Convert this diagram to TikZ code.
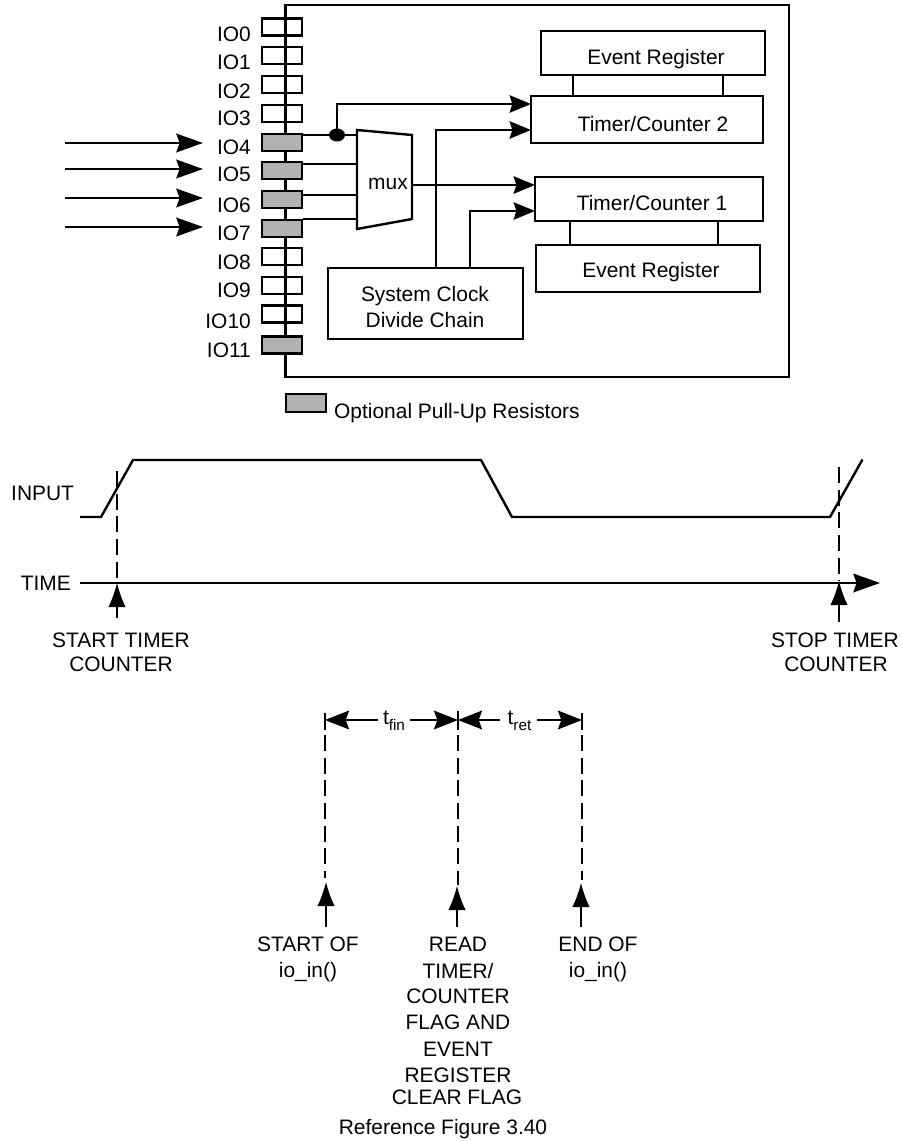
\documentclass[tikz,border=0pt]{standalone}
\usepackage{fontspec}
\setmainfont{Liberation Sans}
\usetikzlibrary{arrows.meta}
\tikzset{every picture/.style={line width=1.8pt}}
\tikzset{
  lbl/.style={anchor=base,inner sep=0pt,font=\fontsize{15.7}{18}\selectfont},
  lblr/.style={lbl,anchor=base east},
  lbll/.style={lbl,anchor=base west},
  pad/.style={draw,minimum width=30pt,minimum height=13pt,inner sep=0pt},
  padon/.style={pad,fill=black!30},
  blockbox/.style={draw,inner sep=0pt},
  bighead/.style={-{Stealth[length=20pt,width=14pt,inset=2.5pt]}},
  midhead/.style={-{Stealth[length=16pt,width=13pt,inset=2pt]}},
  dimhead/.style={-{Stealth[length=18pt,width=14pt,inset=2.5pt]}},
  uphead/.style={line width=0.9pt,-{Latex[length=18pt,width=13pt]}},
  dashline/.style={dash pattern={on 12pt off 5pt}},
}
\newcommand{\tsub}[1]{t\raisebox{-4.5pt}{\fontsize{11.5}{12}\selectfont #1}}

\begin{document}
\begin{tikzpicture}[x=0.75pt,y=0.75pt,yscale=-1,xscale=1]

\useasboundingbox (0,0) rectangle (901,1141);

\draw (285.5,5) rectangle (789,377);

\node [pad] (io0) at (282,27) {};
\node [pad] (io1) at (282,55.5) {};
\node [pad] (io2) at (282,84.5) {};
\node [pad] (io3) at (282,113.5) {};
\node [padon] (io4) at (282,142.5) {};
\node [padon] (io5) at (282,170.5) {};
\node [padon] (io6) at (282,199.5) {};
\node [padon] (io7) at (282,228.5) {};
\node [pad] (io8) at (282,256.5) {};
\node [pad] (io9) at (282,285.5) {};
\node [pad] (io10) at (282,314) {};
\node [padon] (io11) at (282,345) {};

\node [lblr] (lio0) at (252,41.5) {IO0};
\node [lblr] (lio1) at (252,70) {IO1};
\node [lblr] (lio2) at (252,99) {IO2};
\node [lblr] (lio3) at (252,125.5) {IO3};
\node [lblr] (lio4) at (252,154.5) {IO4};
\node [lblr] (lio5) at (252,182) {IO5};
\node [lblr] (lio6) at (252,212.5) {IO6};
\node [lblr] (lio7) at (252,240) {IO7};
\node [lblr] (lio8) at (252,269) {IO8};
\node [lblr] (lio9) at (252,297) {IO9};
\node [lblr] (lio10) at (252,328.5) {IO10};
\node [lblr] (lio11) at (252,357.5) {IO11};

\coordinate (in4) at (65,143);
\coordinate (in5) at (65,169);
\coordinate (in6) at (65,198);
\coordinate (in7) at (65,227);
\draw [bighead] (in4) -- (203,143);
\draw [bighead] (in5) -- (203,169);
\draw [bighead] (in6) -- (203,198);
\draw [bighead] (in7) -- (203,227);

\coordinate (muxa) at (357,135);
\coordinate (muxb) at (357,164);
\coordinate (muxc) at (357,195);
\coordinate (muxd) at (357,219);
\coordinate (muxout) at (412,185);
\draw (357,130) -- (412,135) -- (412,219) -- (357,229) -- cycle;
\node [lbl] (mux) at (388,190) {mux};

\node [blockbox,minimum width=146.25pt,minimum height=53.25pt] (clock) at (425.5,303.5) {};
\node [lbl] (clocktxt) at (425,301) {System Clock};
\node [lbl] (divtxt) at (425,327) {Divide Chain};

\node [blockbox,minimum width=168pt,minimum height=33pt] (event2) at (653,53) {};
\node [lbl] (event2txt) at (656,65) {Event Register};
\node [blockbox,minimum width=174pt,minimum height=35.25pt] (timer2) at (647,119.5) {};
\node [lbl] (timer2txt) at (653,132) {Timer/Counter 2};
\node [blockbox,minimum width=171pt,minimum height=33pt] (timer1) at (649,199) {};
\node [lbl] (timer1txt) at (652,210.5) {Timer/Counter 1};
\node [blockbox,minimum width=168pt,minimum height=35.25pt] (event1) at (648,268.5) {};
\node [lbl] (event1txt) at (651,277.5) {Event Register};

\coordinate (dot) at (337,135);
\coordinate (t2a) at (531,104);
\coordinate (t2b) at (531,130);
\coordinate (t1a) at (535,185);
\coordinate (t1b) at (535,211);

\draw (io4.east |- muxa) -- (muxa);
\draw (io5.east |- muxb) -- (muxb);
\draw (io6.east |- muxc) -- (muxc);
\draw (io7.east |- muxd) -- (muxd);
\fill (dot) ellipse [x radius=8,y radius=6.5];
\draw [midhead] (dot) |- (t2a);
\draw [midhead] (436,268) |- (t2b);
\draw [midhead] (muxout) -- (t1a);
\draw [midhead] (470,268) |- (t1b);
\draw (573,75) -- (573,96);
\draw (723,75) -- (723,96);
\draw (570,221) -- (570,245);
\draw (718,221) -- (718,245);

\node [padon,minimum height=13.5pt] (legend) at (306,403) {};
\node [lbll] (legendtxt) at (333,418) {Optional Pull-Up Resistors};

\node [lbll] (input) at (10,500) {INPUT};
\node [lblr] (time) at (72,590.5) {TIME};
\coordinate (inputa) at (80,517);
\coordinate (inputb) at (862.5,459.5);
\draw (inputa) -- (101,517) -- (133,460) -- (481,460) -- (512,517) -- (830,517) -- (inputb);
\coordinate (timea) at (80,583);
\coordinate (timeb) at (880,583);
\draw [bighead] (timea) -- (timeb);

\coordinate (starta) at (117,471);
\coordinate (startb) at (117,583);
\coordinate (stopa) at (839,467);
\coordinate (stopb) at (839,581);
\draw [dashline] (starta) -- (startb);
\draw [dashline] (stopa) -- (stopb);
\draw [uphead] (117,618) -- (startb);
\draw [uphead] (839,622) -- (stopb);

\node [lbl] (start) at (121,647.5) {START TIMER};
\node [lbl] (startc) at (121,671.5) {COUNTER};
\node [lbl] (stop) at (835,647.5) {STOP TIMER};
\node [lbl] (stopc) at (836,671.5) {COUNTER};

\coordinate (fina) at (325,720);
\coordinate (finb) at (458,720);
\coordinate (retb) at (582,720);
\node [lbl] (tfin) at (394,724) {\tsub{fin}};
\node [lbl] (tret) at (519.5,724) {\tsub{ret}};
\draw [dimhead] (378,720) -- (fina);
\draw [dimhead] (410,720) -- (finb);
\draw [dimhead] (500,720) -- (finb);
\draw [dimhead] (537,720) -- (retb);
\draw (325,713) -- (325,730);
\draw (458,711) -- (458,730);
\draw (582,713) -- (582,730);

\draw [dashline] (325,735) -- (325,878);
\draw [dashline] (458,735) -- (458,885);
\draw [dashline] (582,735) -- (582,880);
\draw [uphead] (326,927) -- (326,882);
\draw [uphead] (457,927) -- (457,886);
\draw [uphead] (581,927) -- (581,883);

\node [lbl] (starto) at (308,951.5) {START OF};
\node [lbl] (startio) at (308,977) {io\_in()};
\node [lbl] (read) at (458,951.5) {READ};
\node [lbl] (readb) at (458,978.5) {TIMER/};
\node [lbl] (readc) at (458,1003.5) {COUNTER};
\node [lbl] (readd) at (458,1029.5) {FLAG AND};
\node [lbl] (reade) at (458,1056.5) {EVENT};
\node [lbl] (readf) at (458,1082.5) {REGISTER};
\node [lbl] (readg) at (457,1104.5) {CLEAR FLAG};
\node [lbl] (endo) at (598,951.5) {END OF};
\node [lbl] (endio) at (598,977) {io\_in()};
\node [lbl] (caption) at (443,1134) {Reference Figure 3.40};

\end{tikzpicture}
\end{document}
